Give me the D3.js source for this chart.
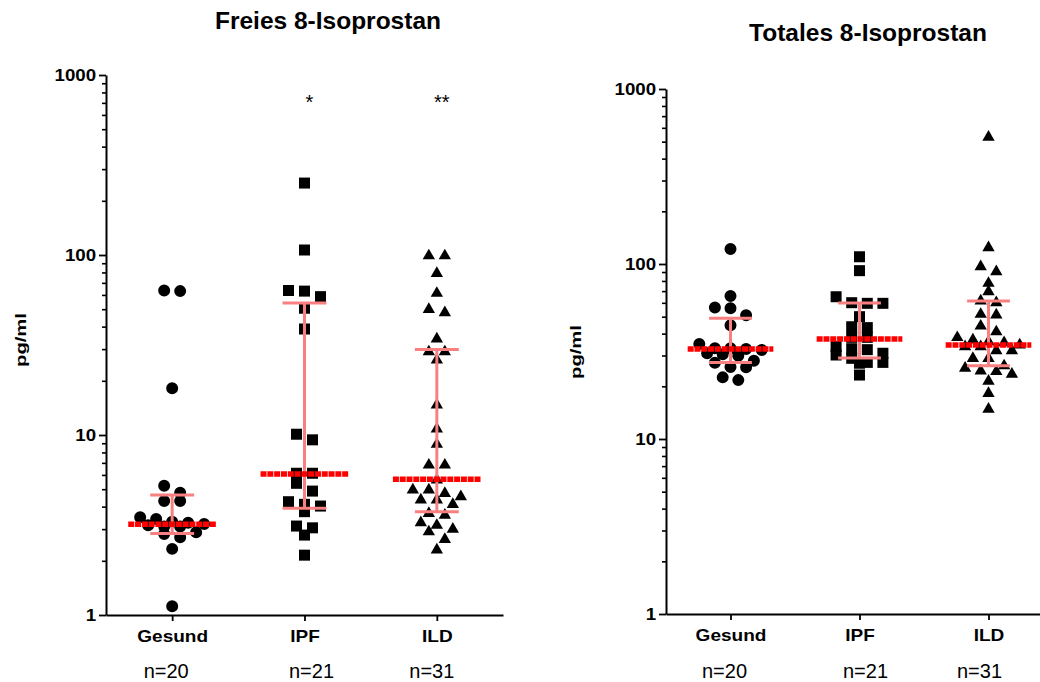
<!DOCTYPE html>
<html><head><meta charset="utf-8">
<script src="https://cdn.jsdelivr.net/npm/d3@7"></script>
<style>
body{margin:0;background:#fff}
svg{display:block}
text{font-family:"Liberation Sans",Arial,sans-serif;fill:#000}
</style>
</head><body>
<svg id="chart" width="1040" height="682"></svg>
<script>
// ---------- data ----------
const categories = ["Gesund", "IPF", "ILD"];
const nLabels = ["n=20", "n=21", "n=31"];
const yTickValues = [1, 10, 100, 1000];
const freiStars = ["", "*", "**"];

const freiGesund = [63, 63.5, 18.2, 5.23, 4.78, 4.3, 4.3, 3.49, 3.41, 3.3, 3.25, 3.2, 3.15, 3.1, 3.1, 2.88, 2.82, 2.7, 2.33, 1.12];
const freiIPF = [251, 106.6, 63.5, 63, 58.7, 50.6, 38.8, 10.1, 9.4, 6.13, 6.13, 5.39, 4.88, 4.26, 4.12, 4.03, 3.75, 3.12, 3.05, 2.78, 2.15];
const freiILD = [99, 99, 79, 61.3, 49.9, 47.8, 34.2, 29, 29, 26.1, 14.7, 10.8, 8.88, 6.81, 6.81, 5.62, 4.95, 4.95, 4.74, 4.54, 4.36, 4.36, 4.12, 3.67, 3.59, 3.26, 3.15, 3.0, 2.9, 2.63, 2.3];
const freiMedian = [3.19, 6.07, 5.67];
const freiQ1 = [2.84, 3.92, 3.75];
const freiQ3 = [4.64, 54.1, 29.9];

const totGesund = [122, 65.6, 56.5, 55.8, 50.9, 44.6, 34.9, 33.0, 33.0, 32.7, 32.3, 30.9, 30.5, 29.9, 28.0, 27.3, 25.8, 25.7, 22.5, 21.7];
const totIPF = [110, 91.6, 65, 60.1, 59.6, 59.6, 50, 43.8, 43.3, 38.1, 38.1, 33.7, 32.8, 32.4, 30.9, 30.2, 28.9, 27.4, 27.4, 27.1, 23.2];
const totILD = [530, 124, 96.5, 90.4, 77.6, 69.5, 61.5, 60.1, 51.6, 51.2, 44.2, 41.0, 38.0, 36.8, 36.0, 35.5, 34.5, 33.7, 33.7, 32.0, 32.0, 28.9, 28.9, 26.2, 25.4, 24.5, 24.3, 23.5, 21.4, 18.2, 14.8];
const totMedian = [32.7, 37.3, 34.4];
const totQ1 = [27.4, 29.0, 26.2];
const totQ3 = [48.9, 59.8, 61.5];

// ---------- layout ----------
const panels = [
  { title: "Freies 8-Isoprostan", series: [freiGesund, freiIPF, freiILD], med: freiMedian, q1: freiQ1, q3: freiQ3, stars: freiStars,
    x0: 106, x1: 503, yTop: 75, yBot: 615, titleX: 328, titleY: 29, ylabX: 26, ylabY: 340, swarmStep: 8, nDx: [-6, 7, -5] },
  { title: "Totales 8-Isoprostan", series: [totGesund, totIPF, totILD], med: totMedian, q1: totQ1, q3: totQ3, stars: null,
    x0: 666, x1: 1053, yTop: 89, yBot: 614, titleX: 868, titleY: 41, ylabX: 581, ylabY: 352, swarmStep: 7.8, nDx: [-6, 6, -9] }
];
const symbols = [d3.symbolCircle, d3.symbolSquare, d3.symbolTriangle];
const symbolSizes = [113, 121, 66];

const svg = d3.select("#chart");

// row-based scatter spread (Prism-like): points within rowH px form a row,
// each row is spread symmetrically around the column centre
function spread(vals, y, step, rowH, maxPerRow) {
  const pts = vals.map(v => ({ v, py: y(v) })).sort((a, b) => a.py - b.py);
  const rows = [];
  let cur = null;
  for (const p of pts) {
    if (!cur || p.py - cur[0].py >= rowH || cur.length >= maxPerRow) { cur = [p]; rows.push(cur); }
    else cur.push(p);
  }
  rows.forEach(r => {
    const k = r.length;
    r.forEach((p, j) => { p.dx = (j - (k - 1) / 2) * 2 * step; });
  });
  return pts;
}

panels.forEach(P => {
  const x = d3.scalePoint().domain(categories).range([P.x0, P.x1]).padding(0.5);
  const y = d3.scaleLog().domain([1, 1000]).range([P.yBot, P.yTop]);
  const g = svg.append("g");

  // title
  g.append("text").attr("x", P.titleX).attr("y", P.titleY).attr("text-anchor", "middle")
    .style("font-weight", "bold").style("font-size", "24.5px").text(P.title);

  // y label
  g.append("text").attr("transform", `translate(${P.ylabX},${P.ylabY}) rotate(-90) scale(1.35,1)`)
    .attr("text-anchor", "middle").style("font-weight", "bold").style("font-size", "15px").text("pg/ml");

  // minor ticks
  const minor = [];
  for (let d = 1; d < 1000; d *= 10) for (let m = 2; m <= 9; m++) minor.push(d * m);
  const yMinor = g.append("g").attr("transform", `translate(${P.x0},0)`)
    .call(d3.axisLeft(y).tickValues(minor).tickSize(4).tickSizeOuter(0).tickFormat(""));
  yMinor.select(".domain").remove();
  yMinor.selectAll("line").attr("stroke", "#000").attr("stroke-width", 1.6);

  // major y axis
  const yAx = g.append("g").attr("transform", `translate(${P.x0},0)`)
    .call(d3.axisLeft(y).tickValues(yTickValues).tickSize(7).tickSizeOuter(0).tickPadding(2).tickFormat(d3.format("d")));
  yAx.attr("font-size", null).attr("font-family", null);
  yAx.select(".domain").attr("stroke", "#000").attr("stroke-width", 2);
  yAx.selectAll("line").attr("stroke", "#000").attr("stroke-width", 1.8);
  yAx.selectAll("text").attr("transform", "scale(1.1,1)")
    .style("font-weight", "bold").style("font-size", "17px");

  // x axis
  const xAx = g.append("g").attr("transform", `translate(0,${P.yBot})`)
    .call(d3.axisBottom(x).tickSize(6).tickSizeOuter(0).tickPadding(8.5));
  xAx.attr("font-size", null).attr("font-family", null);
  xAx.select(".domain").attr("stroke", "#000").attr("stroke-width", 2);
  xAx.selectAll("line").attr("stroke", "#000").attr("stroke-width", 1.8);
  xAx.selectAll("text").attr("transform", "scale(1.12,1)")
    .style("font-weight", "bold").style("font-size", "17px");

  // n labels
  g.selectAll(".nlab").data(nLabels).join("text")
    .attr("x", (d, i) => x(categories[i]) + P.nDx[i]).attr("y", 678)
    .attr("text-anchor", "middle").style("font-size", "20px").text(d => d);

  // points
  P.series.forEach((vals, i) => {
    const pts = spread(vals, y, P.swarmStep, 8, 5);
    const sym = d3.symbol().type(symbols[i]).size(symbolSizes[i]);
    g.append("g").selectAll("path").data(pts).join("path")
      .attr("transform", d => `translate(${x(categories[i]) + d.dx},${d.py})`)
      .attr("d", sym).attr("fill", "#000");
  });

  // error bars + median
  const step = x.step();
  const capHW = step * 0.166, medHW = step * 0.332;
  categories.forEach((c, i) => {
    const cx = x(c);
    const eb = g.append("g").attr("stroke", "#f88080").attr("stroke-width", 3).attr("fill", "none");
    eb.append("line").attr("x1", cx).attr("x2", cx).attr("y1", y(P.q1[i])).attr("y2", y(P.q3[i]));
    eb.append("line").attr("x1", cx - capHW).attr("x2", cx + capHW).attr("y1", y(P.q1[i])).attr("y2", y(P.q1[i]));
    eb.append("line").attr("x1", cx - capHW).attr("x2", cx + capHW).attr("y1", y(P.q3[i])).attr("y2", y(P.q3[i]));
    g.append("line").attr("x1", cx - medHW).attr("x2", cx + medHW).attr("y1", y(P.med[i])).attr("y2", y(P.med[i]))
      .attr("stroke", "#ff0000").attr("stroke-width", 5.5).attr("stroke-dasharray", "6,0.8");
  });

  // significance stars
  if (P.stars) {
    g.selectAll(".star").data(P.stars).join("text")
      .attr("x", (d, i) => x(categories[i]) + 5).attr("y", 109)
      .attr("text-anchor", "middle").style("font-size", "20px").text(d => d);
  }
});
</script>
</body></html>
